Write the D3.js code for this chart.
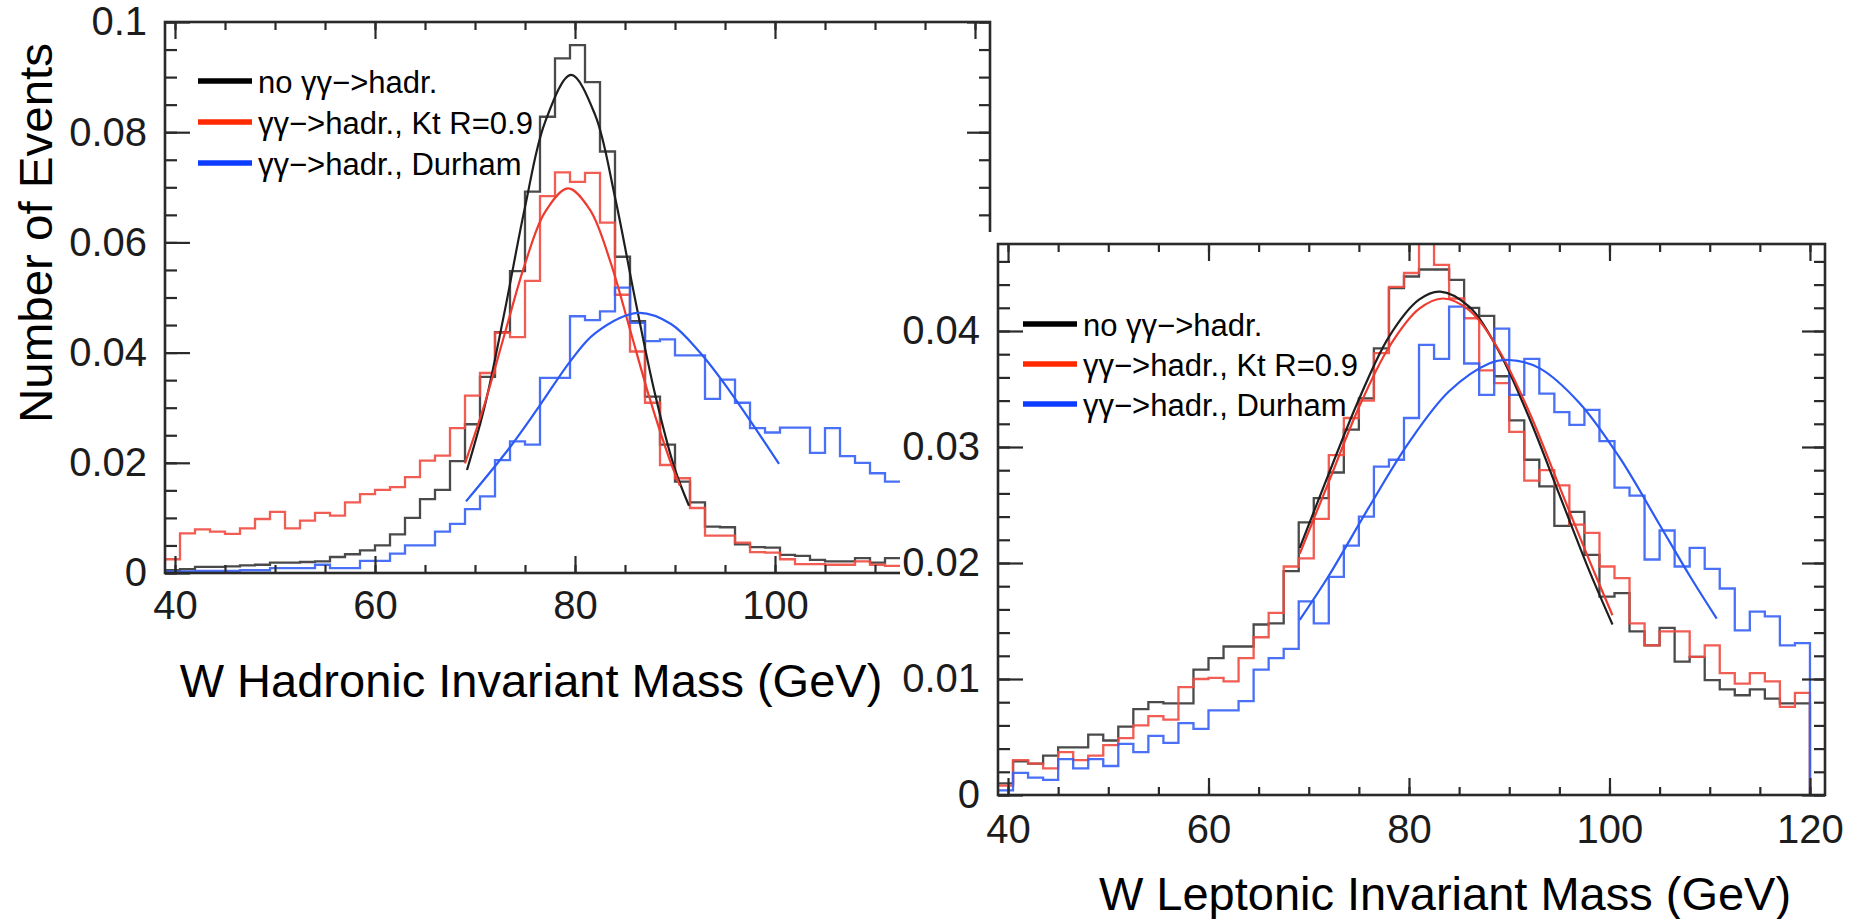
<!DOCTYPE html>
<html>
<head>
<meta charset="utf-8">
<script src="https://cdn.jsdelivr.net/npm/d3@7"></script>
<style>
  body { margin: 0; background: #fff; }
  text { font-family: "Liberation Sans", Arial, Helvetica, sans-serif; }
</style>
</head>
<body>
<div id="chart"></div>
<script>
const width = 1856;
const height = 919;

// histogram binning: 1.5 GeV bins from 39 GeV
const binStart = 39;
const binWidth = 1.5;

const seriesNames = ["no γγ\u2212>hadr.", "γγ\u2212>hadr., Kt R=0.9", "γγ\u2212>hadr., Durham"];

// ---- W hadronic invariant mass (left panel), bins 0..48 (rest hidden) ----
const hadNoGG = [0.0005, 0.0007, 0.0011, 0.0011, 0.0012, 0.0014, 0.0015, 0.0019, 0.0019, 0.0020,
  0.0021, 0.0029, 0.0034, 0.0041, 0.0050, 0.0070, 0.0100, 0.0134, 0.0151, 0.0203,
  0.0270, 0.0356, 0.0437, 0.0548, 0.0692, 0.0828, 0.0934, 0.0958, 0.0891, 0.0765,
  0.0574, 0.0457, 0.0320, 0.0233, 0.0166, 0.0128, 0.0084, 0.0083, 0.0052, 0.0047,
  0.0046, 0.0033, 0.0031, 0.0024, 0.0021, 0.0021, 0.0027, 0.0019, 0.0027];
const hadKt = [0.0025, 0.0072, 0.0079, 0.0075, 0.0071, 0.0081, 0.0098, 0.0111, 0.0081, 0.0095,
  0.0109, 0.0104, 0.0128, 0.0143, 0.0151, 0.0156, 0.0174, 0.0204, 0.0213, 0.0263,
  0.0322, 0.0363, 0.0436, 0.0428, 0.0530, 0.0684, 0.0727, 0.0710, 0.0726, 0.0636,
  0.0505, 0.0402, 0.0309, 0.0196, 0.0172, 0.0118, 0.0068, 0.0068, 0.0055, 0.0038,
  0.0037, 0.0025, 0.0016, 0.0016, 0.0015, 0.0015, 0.0021, 0.0015, 0.0013];
const hadDurham = [0.0003, 0.0003, 0.0004, 0.0004, 0.0004, 0.0005, 0.0005, 0.0009, 0.0009, 0.0009,
  0.0015, 0.0009, 0.0009, 0.0022, 0.0022, 0.0035, 0.0050, 0.0050, 0.0075, 0.0089,
  0.0116, 0.0139, 0.0205, 0.0239, 0.0233, 0.0354, 0.0354, 0.0466, 0.0459, 0.0475,
  0.0518, 0.0454, 0.0421, 0.0424, 0.0395, 0.0395, 0.0316, 0.0351, 0.0309, 0.0263,
  0.0255, 0.0264, 0.0264, 0.0218, 0.0263, 0.0212, 0.0200, 0.0181, 0.0166];

// fitted curves: [GeV, value]
const hadFitNoGG = [[69.2, 0.0187], [71, 0.0305], [73, 0.0478], [75, 0.0664], [77, 0.0818], [79.6, 0.0904],
  [82, 0.0832], [84, 0.0682], [86, 0.0498], [88, 0.0325], [90, 0.0188], [91.4, 0.0122]];
const hadFitKt = [[69, 0.0199], [71, 0.0309], [73, 0.0436], [75, 0.0561], [77, 0.0655], [79.3, 0.0698],
  [81.5, 0.0659], [83.5, 0.0567], [85.5, 0.0442], [87.5, 0.0315], [89.5, 0.0204], [90.5, 0.0158]];
const hadFitDurham = [[69.1, 0.0130], [73.4, 0.0226], [76.4, 0.0302], [79.6, 0.0386], [82, 0.0435],
  [86.3, 0.0472], [89.6, 0.0452], [92.5, 0.0400], [95.4, 0.0332], [98.2, 0.0258], [100.4, 0.0198]];

// ---- W leptonic invariant mass (right panel), bins 0..53 ----
const lepNoGG = [0.0010, 0.0029, 0.0027, 0.0034, 0.0041, 0.0041, 0.0052, 0.0047, 0.0059, 0.0074,
  0.0080, 0.0079, 0.0079, 0.0108, 0.0118, 0.0128, 0.0128, 0.0147, 0.0148, 0.0193,
  0.0235, 0.0256, 0.0278, 0.0315, 0.0342, 0.0385, 0.0437, 0.0447, 0.0453, 0.0453,
  0.0444, 0.0420, 0.0413, 0.0361, 0.0323, 0.0289, 0.0266, 0.0232, 0.0244, 0.0207,
  0.0171, 0.0174, 0.0141, 0.0129, 0.0144, 0.0115, 0.0119, 0.0099, 0.0091, 0.0086,
  0.0091, 0.0083, 0.0079, 0.0079];
const lepKt = [0.0008, 0.0030, 0.0027, 0.0023, 0.0037, 0.0030, 0.0034, 0.0043, 0.0049, 0.0060,
  0.0068, 0.0065, 0.0093, 0.0100, 0.0101, 0.0098, 0.0118, 0.0136, 0.0157, 0.0197,
  0.0204, 0.0238, 0.0293, 0.0325, 0.0340, 0.0381, 0.0438, 0.0450, 0.0490, 0.0457,
  0.0428, 0.0411, 0.0366, 0.0355, 0.0313, 0.0271, 0.0280, 0.0267, 0.0233, 0.0226,
  0.0197, 0.0187, 0.0148, 0.0129, 0.0141, 0.0141, 0.0119, 0.0129, 0.0105, 0.0096,
  0.0105, 0.0098, 0.0076, 0.0088];
const lepDurham = [0.0004, 0.0019, 0.0015, 0.0013, 0.0031, 0.0023, 0.0031, 0.0025, 0.0044, 0.0037,
  0.0051, 0.0045, 0.0062, 0.0057, 0.0073, 0.0073, 0.0081, 0.0108, 0.0118, 0.0126,
  0.0167, 0.0148, 0.0188, 0.0215, 0.0240, 0.0283, 0.0289, 0.0325, 0.0388, 0.0376,
  0.0421, 0.0372, 0.0345, 0.0402, 0.0345, 0.0376, 0.0346, 0.0330, 0.0319, 0.0332,
  0.0305, 0.0265, 0.0258, 0.0203, 0.0228, 0.0197, 0.0213, 0.0195, 0.0178, 0.0142,
  0.0158, 0.0154, 0.0129, 0.0131];

const lepFitNoGG = [[69.1, 0.0213], [72, 0.0277], [75, 0.0341], [78, 0.0395], [81, 0.0427], [83.1, 0.0434],
  [86, 0.0421], [89, 0.0382], [92, 0.0325], [95, 0.0259], [98, 0.0193], [100.3, 0.0147]];
const lepFitKt = [[69.1, 0.0208], [72, 0.0270], [75, 0.0334], [78, 0.0386], [81, 0.0419], [83.4, 0.0428],
  [86, 0.0418], [89, 0.0383], [92, 0.0330], [95, 0.0266], [98, 0.0202], [100.3, 0.0155]];
const lepFitDurham = [[69.1, 0.0151], [72, 0.0189], [76, 0.0248], [80, 0.0304], [84, 0.0348], [88, 0.0372],
  [90, 0.0375], [93, 0.0368], [97, 0.0338], [101, 0.0291], [105, 0.0233], [108, 0.0189], [110.7, 0.0152]];

// tick labels
const xTickLabels = [40, 60, 80, 100, 120];
const hadYTicks = [0, 0.02, 0.04, 0.06, 0.08, 0.1];
const lepYTicks = [0, 0.01, 0.02, 0.03, 0.04];

const histColors = ["#363636", "#ef4a40", "#3560f5"];
const fitColors = ["#1e1e1e", "#ee3b30", "#2b5af5"];
const legendColors = ["#000000", "#ff2a00", "#0b3cff"];
const axisColor = "#2a2a2a";
const tickFont = "40px";

const svg = d3.select("#chart").append("svg")
  .attr("width", width)
  .attr("height", height)
  .style("background", "#fff");

const yFormat = d => d === 0 ? "0" : String(+d.toFixed(3));

function styleAxis(sel) {
  sel.select(".domain").remove();
  sel.selectAll(".tick line").attr("stroke", axisColor).attr("stroke-width", 2.2);
  sel.selectAll(".tick text")
    .attr("fill", "#1c1c1c")
    .style("font-size", tickFont);
}

function drawPanel(p) {
  const g = svg.append("g");
  const [x0, x1] = p.x.range();
  const [yb, yt] = p.y.range();

  if (p.cover) {
    g.append("rect")
      .attr("x", p.cover[0]).attr("y", p.cover[1])
      .attr("width", width - p.cover[0]).attr("height", height - p.cover[1])
      .attr("fill", "#fff");
  }

  g.append("clipPath").attr("id", p.id + "-clip")
    .append("rect")
    .attr("x", x0).attr("y", yt)
    .attr("width", x1 - x0).attr("height", yb - yt);

  const plot = g.append("g").attr("clip-path", `url(#${p.id}-clip)`);

  // histograms as step lines
  const step = d3.line()
    .x(d => p.x(d.e))
    .y(d => p.y(d.v))
    .curve(d3.curveStepAfter);

  p.hists.forEach((vals, k) => {
    const pts = vals.map((v, i) => ({ e: binStart + i * binWidth, v: v }));
    const end = binStart + vals.length * binWidth;
    pts.push(p.dropAtEnd ? { e: end, v: 0 } : { e: end, v: vals[vals.length - 1] });
    plot.append("path")
      .attr("d", step(pts))
      .attr("fill", "none")
      .attr("stroke", histColors[k])
      .attr("stroke-width", 2.3)
      .attr("stroke-opacity", 0.9);
  });

  const fitLine = d3.line()
    .x(d => p.x(d[0]))
    .y(d => p.y(d[1]))
    .curve(d3.curveCatmullRom);

  p.fits.forEach((pts, k) => {
    plot.append("path")
      .attr("d", fitLine(pts))
      .attr("fill", "none")
      .attr("stroke", fitColors[k])
      .attr("stroke-width", 2.2);
  });

  // axes, ticks pointing inwards on all four sides
  const xMinor = d3.range(40, 121, 5);
  g.append("g").attr("transform", `translate(0,${yb})`)
    .call(d3.axisBottom(p.x).tickValues(xMinor).tickSize(-8).tickFormat(""))
    .call(styleAxis);
  g.append("g").attr("transform", `translate(0,${yb})`)
    .call(d3.axisBottom(p.x).tickValues(xTickLabels).tickSize(-17).tickPadding(p.xPad).tickFormat(d3.format("d")))
    .call(styleAxis);
  g.append("g").attr("transform", `translate(0,${yt})`)
    .call(d3.axisTop(p.x).tickValues(xMinor).tickSize(-8).tickFormat(""))
    .call(styleAxis);
  g.append("g").attr("transform", `translate(0,${yt})`)
    .call(d3.axisTop(p.x).tickValues(xTickLabels).tickSize(-17).tickFormat(""))
    .call(styleAxis);

  g.append("g").attr("transform", `translate(${x0},0)`)
    .call(d3.axisLeft(p.y).tickValues(p.yMinor).tickSize(-12).tickFormat(""))
    .call(styleAxis);
  g.append("g").attr("transform", `translate(${x0},0)`)
    .call(d3.axisLeft(p.y).tickValues(p.yTicks).tickSize(-25).tickPadding(18).tickFormat(yFormat))
    .call(styleAxis);
  g.append("g").attr("transform", `translate(${x1},0)`)
    .call(d3.axisRight(p.y).tickValues(p.yMinor).tickSize(-11).tickFormat(""))
    .call(styleAxis);
  g.append("g").attr("transform", `translate(${x1},0)`)
    .call(d3.axisRight(p.y).tickValues(p.yTicks).tickSize(-23).tickFormat(""))
    .call(styleAxis);

  // frame
  g.append("rect")
    .attr("x", x0).attr("y", yt)
    .attr("width", x1 - x0).attr("height", yb - yt)
    .attr("fill", "none")
    .attr("stroke", axisColor)
    .attr("stroke-width", 2.6);

  // legend
  const leg = g.append("g").attr("transform", `translate(${p.legend[0]},${p.legend[1]})`);
  seriesNames.forEach((name, k) => {
    const row = leg.append("g").attr("transform", `translate(0,${k * p.legendStep})`);
    row.append("line")
      .attr("x1", 0).attr("x2", 54)
      .attr("stroke", legendColors[k])
      .attr("stroke-width", 5.5);
    row.append("text")
      .attr("x", 60).attr("y", 12)
      .style("font-size", "31px")
      .attr("fill", "#000")
      .text(name);
  });

  // x title
  g.append("text")
    .attr("x", p.title[0]).attr("y", p.title[1])
    .attr("text-anchor", "middle")
    .style("font-size", "47px")
    .attr("fill", "#000")
    .text(p.titleText);
}

// left: hadronic
const xHad = d3.scaleLinear().domain([39, 121.5]).range([165, 990]);
const yHad = d3.scaleLinear().domain([0, 0.1]).range([573, 22]);

drawPanel({
  id: "had",
  x: xHad, y: yHad,
  hists: [hadNoGG, hadKt, hadDurham],
  fits: [hadFitNoGG, hadFitKt, hadFitDurham],
  dropAtEnd: false,
  yTicks: hadYTicks,
  yMinor: d3.range(0, 0.1001, 0.005),
  xPad: 18,
  legend: [198, 81],
  legendStep: 41,
  title: [531, 697],
  titleText: "W Hadronic Invariant Mass (GeV)"
});

// y axis title of the left panel
svg.append("text")
  .attr("transform", "translate(52,233) rotate(-90)")
  .attr("text-anchor", "middle")
  .attr("textLength", 380)
  .attr("lengthAdjust", "spacingAndGlyphs")
  .style("font-size", "46px")
  .attr("fill", "#000")
  .text("Number of Events");

// right: leptonic, pasted over the lower right of the left panel
const xLep = d3.scaleLinear().domain([39, 121.5]).range([998, 1825]);
const yLep = d3.scaleLinear().domain([0, 0.0475]).range([795, 244]);

drawPanel({
  id: "lep",
  x: xLep, y: yLep,
  cover: [900, 232],
  hists: [lepNoGG, lepKt, lepDurham],
  fits: [lepFitNoGG, lepFitKt, lepFitDurham],
  dropAtEnd: true,
  yTicks: lepYTicks,
  yMinor: d3.range(0, 0.0475, 0.002),
  xPad: 20,
  legend: [1023, 324],
  legendStep: 40,
  title: [1445, 910],
  titleText: "W Leptonic Invariant Mass (GeV)"
});
</script>
</body>
</html>
